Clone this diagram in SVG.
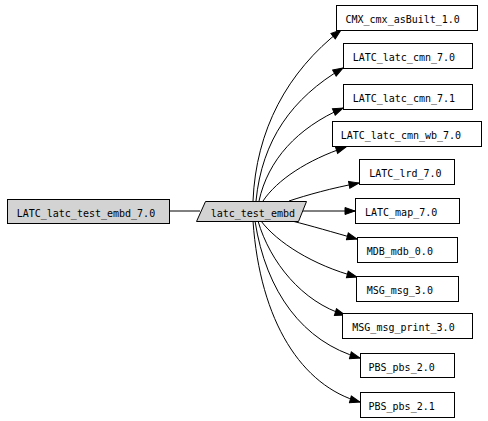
<svg xmlns="http://www.w3.org/2000/svg" width="488" height="421" viewBox="0 0 488 421">
<defs>
<style>
.box{fill:#ffffff;stroke:#000000;stroke-width:1}
.grey{fill:#d3d3d3;stroke:#000000;stroke-width:1}
text{font-family:"DejaVu Sans Mono","Liberation Mono",monospace;font-size:10px;fill:#000000}
.edge{fill:none;stroke:#000000;stroke-width:1;marker-end:url(#arrow)}
.plain{fill:none;stroke:#000000;stroke-width:1}
</style>
<marker id="arrow" markerUnits="userSpaceOnUse" markerWidth="12" markerHeight="9" refX="11" refY="4.5" orient="auto">
<path d="M1,1 L11,4.5 L1,8 Z" fill="#000000" stroke="#000000"/>
</marker>
</defs>
<rect width="488" height="421" fill="#ffffff"/>
<g id="connectors">
<path class="plain" d="M170,211 L200,211"/>
<path class="edge" d="M253,201 C256,130 287,72 341,30"/>
<path class="edge" d="M256,201 C262,140 292,98 343,68"/>
<path class="edge" d="M259,201 C268,160 297,128 343,108"/>
<path class="edge" d="M263,201 C277,180 307,160 346,147"/>
<path class="edge" d="M289,201 C307,195 332,188 359,183"/>
<path class="edge" d="M302,211 L355,211"/>
<path class="edge" d="M292,221 C312,226 332,232 357,239"/>
<path class="edge" d="M261,221 C277,242 312,265 357,277"/>
<path class="edge" d="M258,221 C270,262 302,302 345,315"/>
<path class="edge" d="M255,221 C266,292 303,342 360,358"/>
<path class="edge" d="M253,221 C260,322 302,386 360,402"/>
</g>
<g id="LATC_latc_test_embd_7.0"><rect class="grey" x="7.5" y="199.5" width="162" height="24"/><text x="16.7" y="217">LATC_latc_test_embd_7.0</text></g>
<g id="latc_test_embd"><polygon class="grey" points="205.5,201.5 306.5,201.5 298.5,221.5 196.5,221.5"/><text x="210.7" y="217">latc_test_embd</text></g>
<g id="CMX_cmx_asBuilt_1.0"><rect class="box" x="336.5" y="5.5" width="141" height="25"/><text x="345.5" y="23">CMX_cmx_asBuilt_1.0</text></g>
<g id="LATC_latc_cmn_7.0"><rect class="box" x="343.5" y="43.5" width="129" height="25"/><text x="352.7" y="61">LATC_latc_cmn_7.0</text></g>
<g id="LATC_latc_cmn_7.1"><rect class="box" x="343.5" y="84.5" width="129" height="25"/><text x="352.7" y="102">LATC_latc_cmn_7.1</text></g>
<g id="LATC_latc_cmn_wb_7.0"><rect class="box" x="332.5" y="121.5" width="149" height="25"/><text x="340.7" y="139">LATC_latc_cmn_wb_7.0</text></g>
<g id="LATC_lrd_7.0"><rect class="box" x="359.5" y="159.5" width="95" height="25"/><text x="369.3" y="177">LATC_lrd_7.0</text></g>
<g id="LATC_map_7.0"><rect class="box" x="355.5" y="198.5" width="104" height="25"/><text x="365" y="216">LATC_map_7.0</text></g>
<g id="MDB_mdb_0.0"><rect class="box" x="357.5" y="237.5" width="100" height="25"/><text x="366.7" y="255">MDB_mdb_0.0</text></g>
<g id="MSG_msg_3.0"><rect class="box" x="356.5" y="276.5" width="102" height="25"/><text x="366.7" y="294">MSG_msg_3.0</text></g>
<g id="MSG_msg_print_3.0"><rect class="box" x="342.5" y="313.5" width="130" height="25"/><text x="352.3" y="331">MSG_msg_print_3.0</text></g>
<g id="PBS_pbs_2.0"><rect class="box" x="360.5" y="353.5" width="94" height="24"/><text x="368.5" y="371">PBS_pbs_2.0</text></g>
<g id="PBS_pbs_2.1"><rect class="box" x="360.5" y="392.5" width="94" height="25"/><text x="368.5" y="410">PBS_pbs_2.1</text></g>
</svg>
